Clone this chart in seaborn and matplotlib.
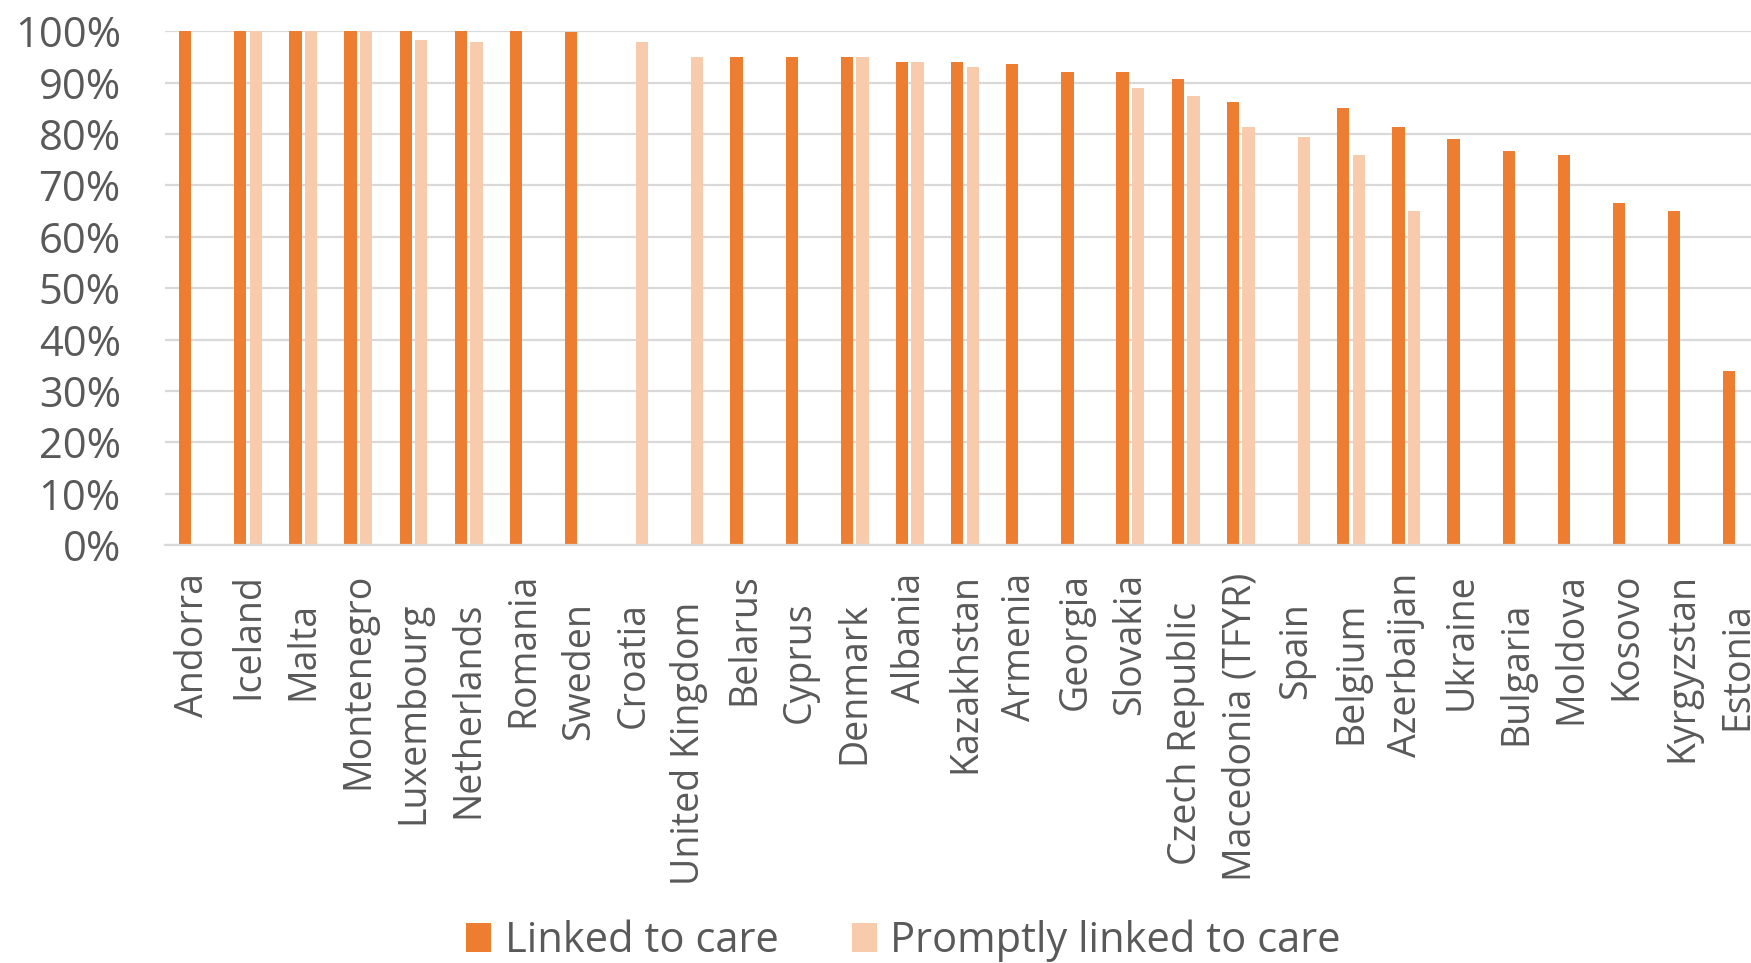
import numpy as np
import pandas as pd
import matplotlib
matplotlib.use("Agg")
import matplotlib.pyplot as plt
from matplotlib.ticker import FuncFormatter
from matplotlib.transforms import ScaledTranslation
import seaborn as sns

countries = [
    "Andorra", "Iceland", "Malta", "Montenegro", "Luxembourg", "Netherlands",
    "Romania", "Sweden", "Croatia", "United Kingdom", "Belarus", "Cyprus",
    "Denmark", "Albania", "Kazakhstan", "Armenia", "Georgia", "Slovakia",
    "Czech Republic", "Macedonia (TFYR)", "Spain", "Belgium", "Azerbaijan",
    "Ukraine", "Bulgaria", "Moldova", "Kosovo", "Kyrgyzstan", "Estonia",
]
nan = np.nan
linked = [100, 100, 100, 100, 100, 100, 100, 99.8, nan, nan, 95, 95,
          95, 94, 94, 93.6, 92, 92, 90.7, 86.3, nan, 85.1, 81.4,
          79, 76.7, 76, 66.6, 65, 33.8]
promptly = [nan, 100, 100, 100, 98.3, 98, nan, nan, 98, 95, nan, nan,
            95, 94, 93, nan, nan, 89, 87.4, 81.4, 79.4, 76, 65,
            nan, nan, nan, nan, nan, nan]
series_names = ["Linked to care", "Promptly linked to care"]
y_ticks = list(range(0, 101, 10))

# category labels whose text sits a little further from the axis
padded_labels = {"Malta", "Luxembourg", "Netherlands", "Sweden", "Croatia",
                 "United Kingdom", "Cyprus", "Denmark", "Czech Republic",
                 "Spain", "Belgium", "Bulgaria", "Estonia"}

df = pd.DataFrame({
    "country": countries * 2,
    "series": [series_names[0]] * len(countries) + [series_names[1]] * len(countries),
    "value": linked + promptly,
})

sns.set_theme(style="white")
plt.rcParams["font.family"] = ["Open Sans", "DejaVu Sans"]
text_color = "#595959"
grid_color = "#D9D9D9"

W, H = 1751, 963
fig = plt.figure(figsize=(W / 100, H / 100), dpi=100)
cat_px = 55.15
left_px, zero_px, top_px = 165.3, 545.0, 31.3
ax = fig.add_axes([left_px / W, (H - zero_px) / H,
                   cat_px * len(countries) / W, (zero_px - top_px) / H])

sns.barplot(data=df, x="country", y="value", hue="series", order=countries,
            hue_order=series_names, palette=["#ED7D31", "#F8CBAD"],
            width=0.566, gap=0.21, errorbar=None, ax=ax, legend=True,
            linewidth=0, saturation=1)

ax.set_xlim(-0.5, len(countries) - 0.5)
ax.set_ylim(0, 100)
ax.set_yticks(y_ticks)
ax.yaxis.set_major_formatter(FuncFormatter(lambda v, _: f"{v:.0f}%"))
ax.grid(axis="y", color=grid_color, linewidth=1.6)
ax.set_axisbelow(True)
for side in ["top", "right", "left"]:
    ax.spines[side].set_visible(False)
ax.spines["bottom"].set_color(grid_color)
ax.spines["bottom"].set_linewidth(1.6)
ax.tick_params(axis="y", length=0, pad=32, labelsize=30, labelcolor=text_color)
ax.tick_params(axis="x", length=0, pad=20, labelsize=27, labelcolor=text_color)
ax.set_xticks(range(len(countries)))
ax.set_xticklabels(countries, rotation=90, ha="center", va="top")
ax.set_xlabel("")
ax.set_ylabel("")
shift = ScaledTranslation(0, -0.29, fig.dpi_scale_trans)
for lbl in ax.get_xticklabels():
    if lbl.get_text() in padded_labels:
        lbl.set_transform(lbl.get_transform() + shift)

handles, labels = ax.get_legend_handles_labels()
ax.get_legend().remove()
leg = fig.legend(handles, labels, loc="center", bbox_to_anchor=(0.516, 0.023),
                 ncol=2, frameon=False, fontsize=30, handlelength=0.6,
                 handleheight=0.68, handletextpad=0.33, columnspacing=1.75,
                 labelcolor=text_color)

fig.savefig("out.png", dpi=100)
